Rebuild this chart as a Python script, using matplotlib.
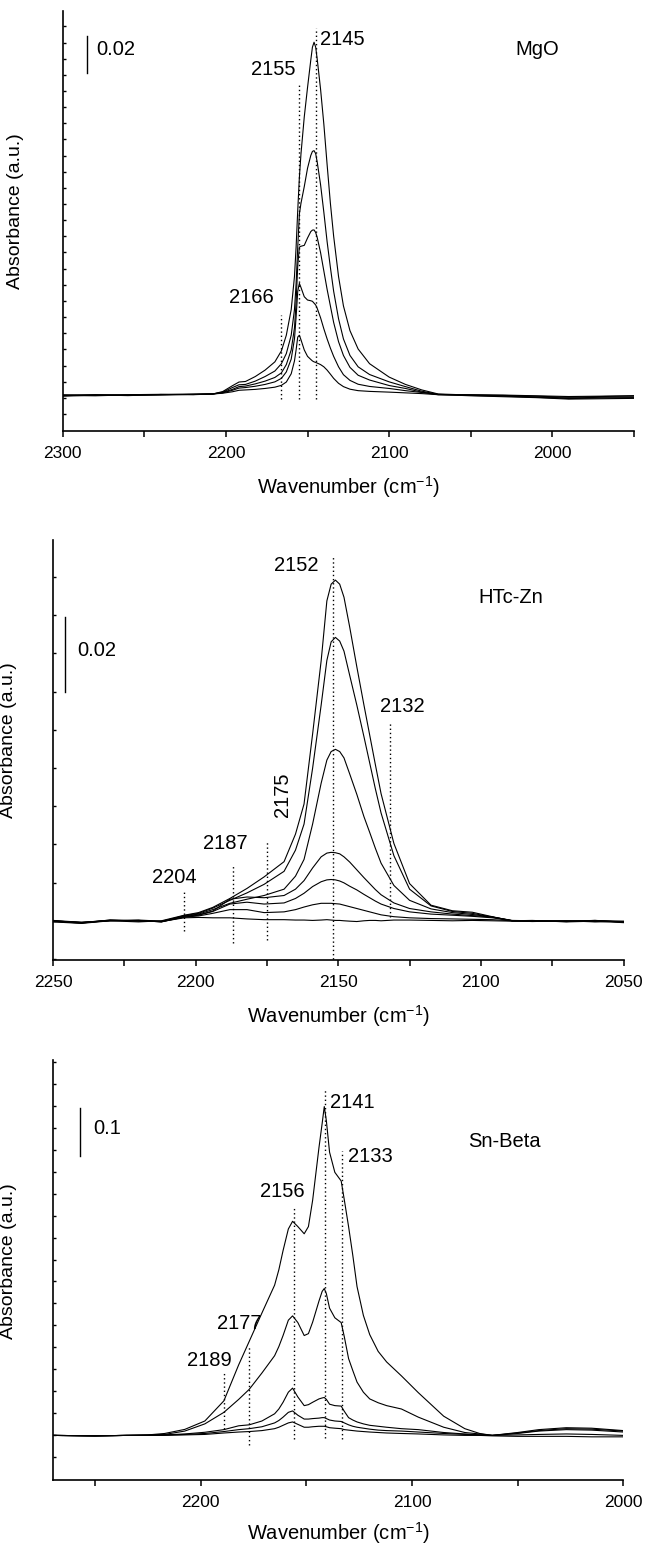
import numpy as np
import matplotlib
matplotlib.use("Agg")
import matplotlib.pyplot as plt
from matplotlib.ticker import MultipleLocator, NullFormatter

plt.rcParams['font.family'] = ['Liberation Sans', 'DejaVu Sans']
plt.rcParams['mathtext.fontset'] = 'custom'
plt.rcParams['mathtext.rm'] = 'Liberation Sans'

# ---------------- MgO ----------------
mgo_wn = [2300, 2280, 2260, 2240, 2220, 2208, 2202, 2196, 2192, 2188, 2182, 2176,
          2170, 2166, 2163, 2160, 2158, 2157, 2156, 2155, 2154, 2152, 2150, 2148,
          2147, 2146, 2145, 2144, 2142, 2140, 2138, 2136, 2134, 2131, 2128, 2124,
          2119, 2112, 2100, 2090, 2080, 2070, 2050, 2030, 2010, 1990, 1970, 1950]
mgo_a1 = [-0.0010, -0.0004, -0.0006, -0.0003, -0.0002, 0.0000, 0.0013, 0.0045, 0.0065,
          0.0068, 0.0095, 0.0130, 0.0175, 0.0235, 0.0320, 0.0460, 0.0640, 0.0800,
          0.1000, 0.1180, 0.1310, 0.1510, 0.1670, 0.1820, 0.1890, 0.1917, 0.1890,
          0.1820, 0.1660, 0.1470, 0.1250, 0.1040, 0.0860, 0.0640, 0.0480, 0.0345,
          0.0245, 0.0165, 0.0092, 0.0052, 0.0022, 0.0000, -0.0006, -0.0008, -0.0012,
          -0.0018, -0.0014, -0.0010]
mgo_a2 = [-0.0005, -0.0008, -0.0004, -0.0002, -0.0003, 0.0000, 0.0010, 0.0035, 0.0050,
          0.0052, 0.0070, 0.0095, 0.0125, 0.0165, 0.0220, 0.0320, 0.0460, 0.0600,
          0.0800, 0.0980, 0.1040, 0.1130, 0.1230, 0.1300, 0.1322, 0.1326, 0.1310,
          0.1260, 0.1140, 0.0990, 0.0830, 0.0690, 0.0560, 0.0410, 0.0300, 0.0210,
          0.0148, 0.0106, 0.0066, 0.0040, 0.0015, -0.0002, -0.0008, -0.0012, -0.0018,
          -0.0025, -0.0022, -0.0020]
mgo_a3 = [-0.0012, -0.0006, -0.0008, -0.0004, -0.0001, 0.0000, 0.0008, 0.0025, 0.0040,
          0.0043, 0.0055, 0.0070, 0.0090, 0.0115, 0.0160, 0.0240, 0.0360, 0.0500,
          0.0700, 0.0800, 0.0805, 0.0810, 0.0850, 0.0885, 0.0893, 0.0894, 0.0880,
          0.0850, 0.0770, 0.0670, 0.0570, 0.0480, 0.0390, 0.0285, 0.0210, 0.0145,
          0.0102, 0.0076, 0.0046, 0.0030, 0.0010, -0.0003, -0.0010, -0.0015, -0.0020,
          -0.0028, -0.0026, -0.0024]
mgo_a4 = [-0.0008, -0.0010, -0.0005, -0.0006, -0.0002, 0.0000, 0.0006, 0.0020, 0.0032,
          0.0035, 0.0042, 0.0052, 0.0066, 0.0085, 0.0120, 0.0190, 0.0300, 0.0420,
          0.0560, 0.0603, 0.0580, 0.0530, 0.0512, 0.0508, 0.0505, 0.0495, 0.0485,
          0.0465, 0.0415, 0.0355, 0.0300, 0.0250, 0.0205, 0.0148, 0.0105, 0.0074,
          0.0053, 0.0041, 0.0030, 0.0018, 0.0008, -0.0004, -0.0006, -0.0010, -0.0016,
          -0.0022, -0.0018, -0.0016]
mgo_a5 = [-0.0006, -0.0005, -0.0009, -0.0003, -0.0004, 0.0000, 0.0004, 0.0012, 0.0020,
          0.0022, 0.0025, 0.0030, 0.0037, 0.0047, 0.0065, 0.0110, 0.0180, 0.0240,
          0.0310, 0.0320, 0.0295, 0.0240, 0.0205, 0.0188, 0.0180, 0.0175, 0.0172,
          0.0168, 0.0160, 0.0148, 0.0130, 0.0108, 0.0085, 0.0058, 0.0040, 0.0026,
          0.0018, 0.0014, 0.0010, 0.0006, 0.0002, -0.0004, -0.0004, -0.0006, -0.0010,
          -0.0014, -0.0012, -0.0010]
mgo_bands = [2166, 2155, 2145]

# ---------------- HTc-Zn ----------------
zn_wn = [2250, 2240, 2230, 2220, 2212, 2204, 2199, 2194, 2188, 2182, 2176, 2169,
         2165, 2162, 2159, 2156, 2154, 2152.5, 2151, 2149.5, 2148, 2146, 2143.5, 2141,
         2139, 2137, 2135, 2130.5, 2125, 2117.5, 2110, 2103, 2096, 2089, 2082, 2070,
         2060, 2050]
zn_a1 = [-0.0003, -0.0007, 0.0000, -0.0003, 0.0000, 0.0015, 0.0022, 0.0036, 0.0060,
         0.0087, 0.0118, 0.0159, 0.0233, 0.0314, 0.0502, 0.0699, 0.0860, 0.0905,
         0.0916, 0.0905, 0.0870, 0.0790, 0.0683, 0.0580, 0.0500, 0.0420, 0.0342,
         0.0208, 0.0100, 0.0042, 0.0027, 0.0023, 0.0011, 0.0000, -0.0001, -0.0002,
         0.0000, -0.0003]
zn_a2 = [0.0000, -0.0005, 0.0002, -0.0001, -0.0002, 0.0014, 0.0020, 0.0034, 0.0055,
         0.0075, 0.0098, 0.0133, 0.0190, 0.0260, 0.0410, 0.0580, 0.0700, 0.0750,
         0.0762, 0.0752, 0.0725, 0.0660, 0.0580, 0.0495, 0.0425, 0.0355, 0.0290,
         0.0175, 0.0085, 0.0040, 0.0025, 0.0020, 0.0010, 0.0000, 0.0001, -0.0003,
         -0.0001, -0.0005]
zn_a3 = [-0.0002, -0.0006, 0.0001, 0.0001, -0.0003, 0.0013, 0.0018, 0.0030, 0.0047,
         0.0058, 0.0068, 0.0085, 0.0120, 0.0165, 0.0260, 0.0370, 0.0432, 0.0455,
         0.0461, 0.0455, 0.0438, 0.0395, 0.0340, 0.0280, 0.0238, 0.0195, 0.0155,
         0.0095, 0.0055, 0.0032, 0.0022, 0.0017, 0.0010, 0.0000, -0.0002, 0.0000,
         -0.0002, -0.0002]
zn_a4 = [0.0001, -0.0004, 0.0000, 0.0002, -0.0001, 0.0012, 0.0016, 0.0026, 0.0058,
         0.0064, 0.0062, 0.0068, 0.0085, 0.0108, 0.0142, 0.0172, 0.0182, 0.0184,
         0.0183, 0.0180, 0.0172, 0.0158, 0.0137, 0.0116, 0.0100, 0.0084, 0.0070,
         0.0048, 0.0033, 0.0024, 0.0018, 0.0014, 0.0010, 0.0001, 0.0000, -0.0002,
         0.0001, -0.0004]
zn_a5 = [-0.0001, -0.0006, 0.0002, 0.0000, -0.0002, 0.0010, 0.0015, 0.0025, 0.0045,
         0.0050, 0.0045, 0.0048, 0.0060, 0.0074, 0.0092, 0.0105, 0.0110, 0.0111,
         0.0110, 0.0107, 0.0102, 0.0093, 0.0083, 0.0071, 0.0062, 0.0053, 0.0045,
         0.0033, 0.0024, 0.0018, 0.0015, 0.0012, 0.0008, 0.0000, -0.0001, 0.0000,
         -0.0003, -0.0001]
zn_a6 = [0.0000, -0.0005, 0.0000, 0.0001, -0.0003, 0.0010, 0.0013, 0.0020, 0.0030,
         0.0030, 0.0022, 0.0024, 0.0030, 0.0037, 0.0043, 0.0047, 0.0047, 0.0047,
         0.0046, 0.0045, 0.0042, 0.0038, 0.0033, 0.0028, 0.0024, 0.0020, 0.0016,
         0.0011, 0.0008, 0.0006, 0.0005, 0.0004, 0.0003, 0.0000, 0.0000, -0.0001,
         0.0000, -0.0002]
zn_a7 = [-0.0001, -0.0004, 0.0001, 0.0000, -0.0002, 0.0008, 0.0009, 0.0008, 0.0008,
         0.0005, 0.0003, 0.0003, 0.0002, 0.0002, 0.0001, 0.0002, 0.0003, 0.0002,
         0.0001, 0.0001, 0.0000, -0.0001, -0.0002, 0.0000, 0.0001, 0.0001, 0.0000,
         0.0002, 0.0002, 0.0001, 0.0000, 0.0001, 0.0000, -0.0001, 0.0000, -0.0001,
         0.0001, -0.0002]
zn_bands = [2204, 2187, 2175, 2152, 2132]

# ---------------- Sn-Beta ----------------
sn_wn = [2270, 2250, 2235, 2225, 2217, 2207.5, 2198, 2189, 2182, 2177, 2171, 2165,
         2163, 2161, 2158.5, 2156.5, 2154, 2151, 2149, 2147, 2144, 2142.5, 2141.5,
         2140.5, 2139, 2136.5, 2133.5, 2132, 2130, 2128, 2126, 2123, 2120, 2116,
         2112, 2105, 2097, 2085, 2075, 2068, 2062, 2050, 2040, 2027, 2015, 2000]
sn_a1 = [0.000, -0.001, 0.000, 0.001, 0.004, 0.0125, 0.030, 0.072, 0.147, 0.196,
         0.255, 0.313, 0.345, 0.385, 0.430, 0.446, 0.435, 0.420, 0.435, 0.490,
         0.600, 0.650, 0.685, 0.655, 0.590, 0.548, 0.530, 0.490, 0.435, 0.375,
         0.310, 0.250, 0.210, 0.175, 0.153, 0.124, 0.089, 0.040, 0.014, 0.004,
         0.000, 0.006, 0.012, 0.016, 0.015, 0.010]
sn_a2 = [0.000, -0.001, 0.000, 0.001, 0.002, 0.009, 0.024, 0.048, 0.075, 0.096,
         0.130, 0.166, 0.185, 0.208, 0.240, 0.249, 0.235, 0.208, 0.212, 0.236,
         0.280, 0.300, 0.306, 0.295, 0.265, 0.245, 0.235, 0.205, 0.160, 0.135,
         0.111, 0.090, 0.076, 0.068, 0.062, 0.055, 0.038, 0.017, 0.006, 0.003,
         0.000, 0.005, 0.010, 0.014, 0.013, 0.009]
sn_a3 = [0.000, -0.001, 0.000, 0.000, 0.001, 0.003, 0.0065, 0.012, 0.020, 0.022,
         0.030, 0.045, 0.055, 0.069, 0.090, 0.0985, 0.080, 0.062, 0.064, 0.069,
         0.076, 0.078, 0.079, 0.075, 0.065, 0.062, 0.061, 0.050, 0.037, 0.032,
         0.028, 0.024, 0.021, 0.019, 0.017, 0.014, 0.012, 0.006, 0.003, 0.001,
         0.000, 0.004, 0.009, 0.012, 0.011, 0.007]
sn_a4 = [0.000, -0.001, 0.000, 0.000, 0.001, 0.002, 0.004, 0.008, 0.012, 0.014,
         0.018, 0.026, 0.031, 0.038, 0.048, 0.051, 0.042, 0.034, 0.034, 0.035,
         0.036, 0.037, 0.037, 0.035, 0.032, 0.030, 0.029, 0.026, 0.022, 0.019,
         0.017, 0.015, 0.013, 0.011, 0.010, 0.009, 0.007, 0.004, 0.002, 0.001,
         0.000, 0.001, 0.002, 0.003, 0.002, 0.000]
sn_a5 = [0.000, -0.001, 0.000, 0.000, 0.000, 0.001, 0.002, 0.005, 0.007, 0.008,
         0.010, 0.014, 0.017, 0.021, 0.026, 0.028, 0.023, 0.017, 0.017, 0.018,
         0.019, 0.019, 0.019, 0.018, 0.016, 0.015, 0.014, 0.012, 0.011, 0.010,
         0.009, 0.008, 0.007, 0.006, 0.005, 0.004, 0.003, 0.001, 0.000, 0.000,
         -0.001, -0.002, -0.002, -0.002, -0.003, -0.003]
sn_bands = [2189, 2177, 2156, 2141, 2133]

TXT = 14.5
fig = plt.figure(figsize=(6.45, 15.46), dpi=100)


def style_axes(ax, xlim, ylim, xmajor, xminor, ytick_start, ytick_step, xlabelpad=9):
    ax.set_xlim(*xlim)
    ax.set_ylim(*ylim)
    for s in ('top', 'right'):
        ax.spines[s].set_visible(False)
    for s in ('left', 'bottom'):
        ax.spines[s].set_linewidth(1.2)
    ax.xaxis.set_major_locator(MultipleLocator(xmajor))
    ax.xaxis.set_minor_locator(MultipleLocator(xminor))
    ax.tick_params(axis='x', which='both', direction='out', length=4, width=1.1,
                   labelsize=12.5, pad=7)
    yt = np.arange(ytick_start, ylim[1] + 1e-9, ytick_step)
    ax.set_yticks(yt)
    ax.yaxis.set_major_formatter(NullFormatter())
    ax.tick_params(axis='y', which='both', direction='in', length=2.5, width=1.0)
    ax.set_xlabel(r'Wavenumber (cm$^{\mathregular{-1}}$)', fontsize=TXT,
                  labelpad=xlabelpad)
    ax.set_ylabel('Absorbance (a.u.)', fontsize=14)


def band_line(ax, x, y0, y1):
    ax.plot([x, x], [y0, y1], ls=(0, (1, 2)), color='black', lw=1.0)


# ---- panel 1: MgO ----
ax1 = fig.add_axes([0.0972, 0.7212, 0.8857, 0.2719])
for a in (mgo_a1, mgo_a2, mgo_a3, mgo_a4, mgo_a5):
    ax1.plot(mgo_wn, a, color='black', lw=0.8)
style_axes(ax1, (2300, 1950), (-0.0202, 0.2089), 100, 50, -0.0109, 0.0088)
ax1.yaxis.set_label_coords(-0.068, 0.522)
band_tops1 = [0.043, 0.1695, 0.1995]
for b, t in zip(mgo_bands, band_tops1):
    band_line(ax1, b, -0.0025, t)
ax1.text(2142.3, 0.193, '2145', fontsize=TXT, ha='left', va='center')
ax1.text(2157.5, 0.1766, '2155', fontsize=TXT, ha='right', va='center')
ax1.text(2170.6, 0.0526, '2166', fontsize=TXT, ha='right', va='center')
ax1.text(2009.4, 0.1875, 'MgO', fontsize=TXT, ha='center', va='center')
ax1.plot([2285.1, 2285.1], [0.1751, 0.1951], color='black', lw=1.0)
ax1.text(2279.4, 0.1875, '0.02', fontsize=TXT, ha='left', va='center')

# ---- panel 2: HTc-Zn ----
ax2 = fig.add_axes([0.0822, 0.3790, 0.8845, 0.2720])
for a in (zn_a1, zn_a2, zn_a3, zn_a4, zn_a5, zn_a6, zn_a7):
    ax2.plot(zn_wn, a, color='black', lw=0.8)
style_axes(ax2, (2250, 2050), (-0.01056, 0.1025), 50, 25, -0.01027, 0.01027)
ax2.yaxis.set_label_coords(-0.063, 0.523)
band_ranges2 = [(-0.0027, 0.0083), (-0.0059, 0.0154), (-0.0052, 0.0212),
                (-0.0103, 0.0983), (0.0011, 0.0535)]
for b, (lo, hi) in zip(zn_bands, band_ranges2):
    band_line(ax2, b, lo, hi)
ax2.text(2157.1, 0.0956, '2152', fontsize=TXT, ha='right', va='center')
ax2.text(2089.5, 0.0870, 'HTc-Zn', fontsize=TXT, ha='center', va='center')
ax2.text(2135.5, 0.0575, '2132', fontsize=TXT, ha='left', va='center')
ax2.text(2169.6, 0.0338, '2175', fontsize=TXT, ha='center', va='center', rotation=90)
ax2.text(2189.5, 0.0209, '2187', fontsize=TXT, ha='center', va='center')
ax2.text(2207.4, 0.0116, '2204', fontsize=TXT, ha='center', va='center')
ax2.plot([2245.9, 2245.9], [0.0616, 0.0816], color='black', lw=1.0)
ax2.text(2241.6, 0.0728, '0.02', fontsize=TXT, ha='left', va='center')

# ---- panel 3: Sn-Beta ----
ax3 = fig.add_axes([0.0817, 0.0427, 0.8847, 0.2719])
for a in (sn_a1, sn_a2, sn_a3, sn_a4, sn_a5):
    ax3.plot(sn_wn, a, color='black', lw=0.8)
style_axes(ax3, (2270, 2000), (-0.0929, 0.7828), 100, 50, -0.0458, 0.0458,
           xlabelpad=7)
ax3.yaxis.set_label_coords(-0.063, 0.521)
band_ranges3 = [(0.0125, 0.130), (-0.019, 0.187), (-0.0085, 0.474),
                (-0.005, 0.720), (-0.0085, 0.5926)]
for b, (lo, hi) in zip(sn_bands, band_ranges3):
    band_line(ax3, b, lo, hi)
ax3.text(2138.6, 0.6945, '2141', fontsize=TXT, ha='left', va='center')
ax3.text(2130.3, 0.582, '2133', fontsize=TXT, ha='left', va='center')
ax3.text(2056.1, 0.612, 'Sn-Beta', fontsize=TXT, ha='center', va='center')
ax3.text(2161.3, 0.5074, '2156', fontsize=TXT, ha='center', va='center')
ax3.text(2181.9, 0.2327, '2177', fontsize=TXT, ha='center', va='center')
ax3.text(2195.9, 0.1558, '2189', fontsize=TXT, ha='center', va='center')
ax3.plot([2257.1, 2257.1], [0.582, 0.682], color='black', lw=1.0)
ax3.text(2250.6, 0.640, '0.1', fontsize=TXT, ha='left', va='center')

fig.savefig('out.png', dpi=100)
